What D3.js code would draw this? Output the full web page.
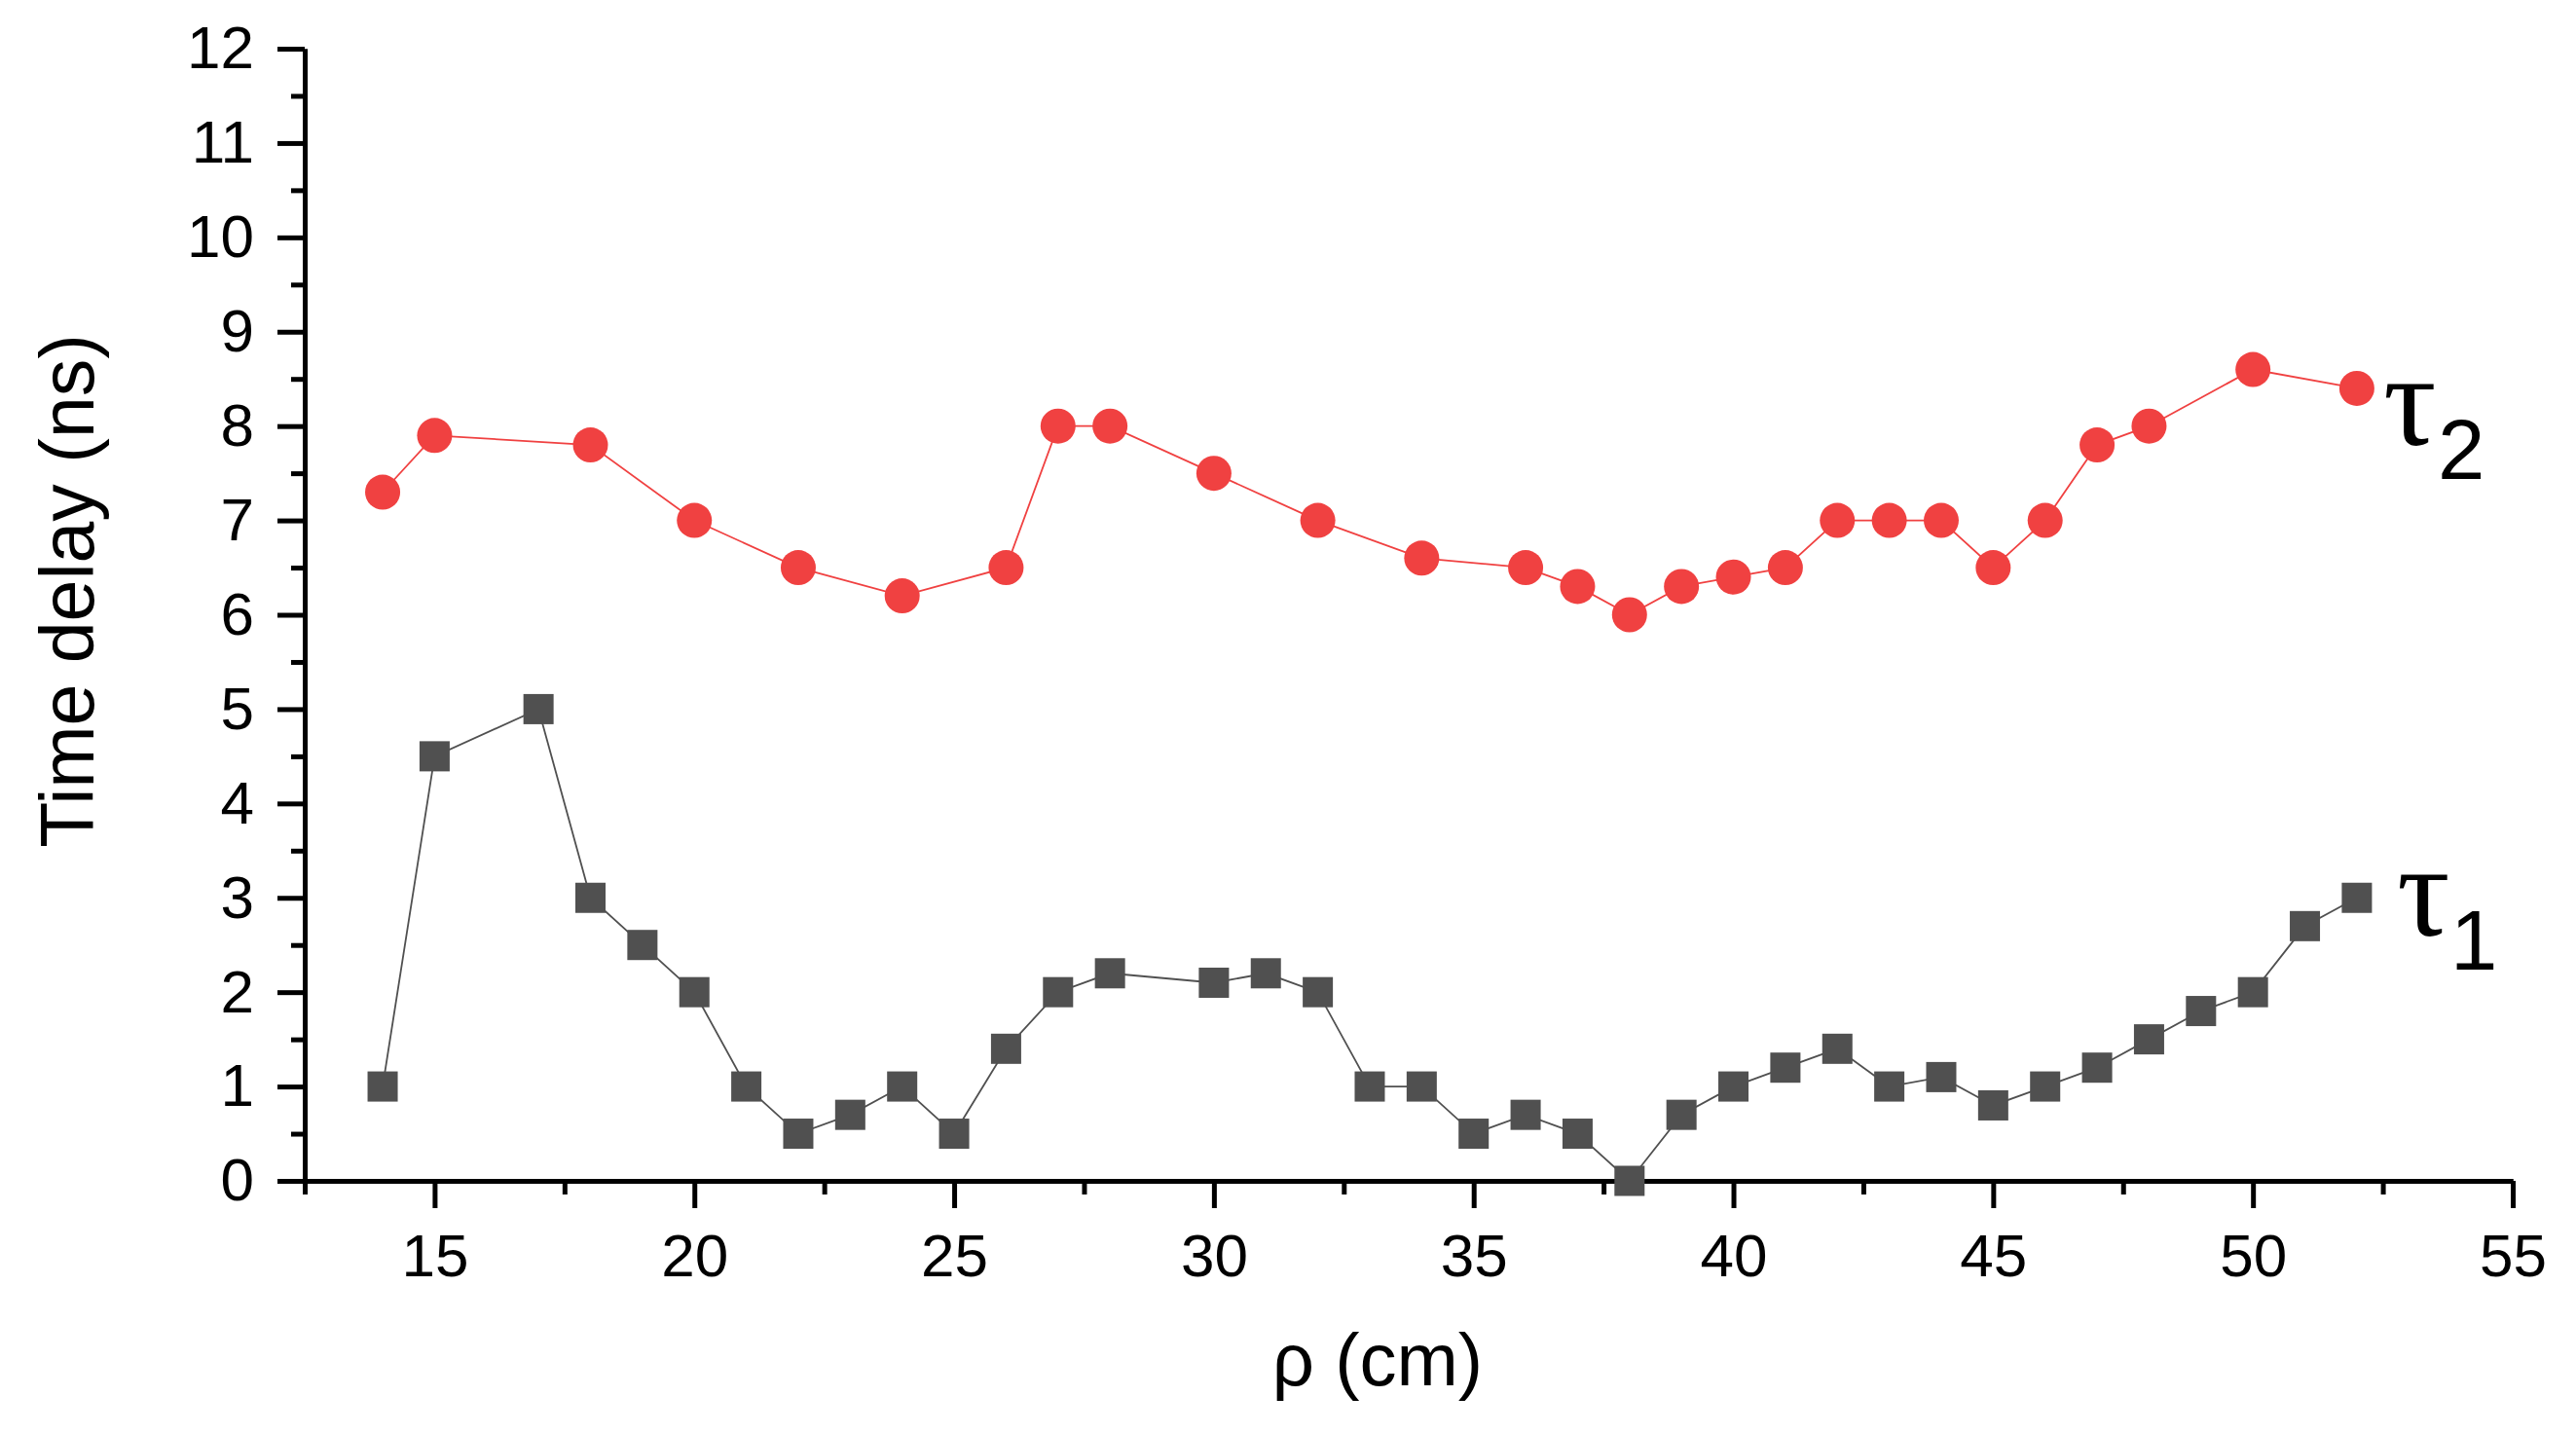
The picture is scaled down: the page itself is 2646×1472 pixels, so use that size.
<!DOCTYPE html>
<html lang="en">
<head>
    <meta charset="UTF-8">
    <title>Time delay vs rho</title>
    <script src="https://d3js.org/d3.v7.min.js"></script>
    <style>
        body {
            margin: 0;
            padding: 0;
            background-color: #ffffff;
        }
        svg text {
            font-family: 'Liberation Sans', Arial, sans-serif;
            fill: #000;
        }
    </style>
</head>
<body>
    <script>
        // Datos
        const tau1X = [14, 15, 17, 18, 19, 20, 21, 22, 23, 24, 25, 26, 27, 28, 30, 31, 32, 33, 34, 35, 36, 37, 38, 39, 40, 41, 42, 43, 44, 45, 46, 47, 48, 49, 50, 51, 52];
        const tau1Y = [1.0, 4.5, 5.0, 3.0, 2.5, 2.0, 1.0, 0.5, 0.7, 1.0, 0.5, 1.4, 2.0, 2.2, 2.1, 2.2, 2.0, 1.0, 1.0, 0.5, 0.7, 0.5, 0.0, 0.7, 1.0, 1.2, 1.4, 1.0, 1.1, 0.8, 1.0, 1.2, 1.5, 1.8, 2.0, 2.7, 3.0];

        const tau2X = [14, 15, 18, 20, 22, 24, 26, 27, 28, 30, 32, 34, 36, 37, 38, 39, 40, 41, 42, 43, 44, 45, 46, 47, 48, 50, 52];
        const tau2Y = [7.3, 7.9, 7.8, 7.0, 6.5, 6.2, 6.5, 8.0, 8.0, 7.5, 7.0, 6.6, 6.5, 6.3, 6.0, 6.3, 6.4, 6.5, 7.0, 7.0, 7.0, 6.5, 7.0, 7.8, 8.0, 8.6, 8.4];

        const xMajorTicks = [15, 20, 25, 30, 35, 40, 45, 50, 55];
        const xMinorTicks = [12.5, 17.5, 22.5, 27.5, 32.5, 37.5, 42.5, 47.5, 52.5];
        const yMajorTicks = [0, 1, 2, 3, 4, 5, 6, 7, 8, 9, 10, 11, 12];
        const yMinorTicks = [0.5, 1.5, 2.5, 3.5, 4.5, 5.5, 6.5, 7.5, 8.5, 9.5, 10.5, 11.5];

        const width = 2646;
        const height = 1472;

        const svg = d3.select("body")
            .append("svg")
            .attr("width", width)
            .attr("height", height);

        const x = d3.scaleLinear().domain([12.5, 55]).range([313, 2581]);
        const y = d3.scaleLinear().domain([0, 12]).range([1213, 50]);

        // Ejes
        function styleAxis(g) {
            g.select(".domain").attr("stroke", "#000").attr("stroke-width", 5);
            g.selectAll(".tick line").attr("stroke", "#000").attr("stroke-width", 5);
        }

        svg.append("g")
            .attr("transform", `translate(0,${y(0)})`)
            .call(d3.axisBottom(x).tickValues(xMinorTicks).tickSize(14).tickSizeOuter(0).tickFormat(""))
            .call(styleAxis);

        const xAxis = svg.append("g")
            .attr("transform", `translate(0,${y(0)})`)
            .call(d3.axisBottom(x).tickValues(xMajorTicks).tickSize(28).tickSizeOuter(0).tickPadding(26))
            .call(styleAxis);
        xAxis.selectAll(".tick text").attr("font-size", 62).attr("font-family", "'Liberation Sans', Arial, sans-serif");

        svg.append("g")
            .attr("transform", `translate(${x(12.5)},0)`)
            .call(d3.axisLeft(y).tickValues(yMinorTicks).tickSize(14).tickSizeOuter(0).tickFormat(""))
            .call(styleAxis);

        const yAxis = svg.append("g")
            .attr("transform", `translate(${x(12.5)},0)`)
            .call(d3.axisLeft(y).tickValues(yMajorTicks).tickSize(28).tickSizeOuter(0).tickPadding(24))
            .call(styleAxis);
        yAxis.selectAll(".tick text").attr("font-size", 62).attr("font-family", "'Liberation Sans', Arial, sans-serif");

        // Títulos de ejes
        svg.append("text")
            .attr("x", 1415)
            .attr("y", 1423)
            .attr("text-anchor", "middle")
            .attr("font-size", 76)
            .text("ρ (cm)");

        svg.append("text")
            .attr("transform", "translate(96,607) rotate(-90)")
            .attr("text-anchor", "middle")
            .attr("font-size", 77)
            .text("Time delay (ns)");

        // Series
        const line = d3.line().x(d => x(d[0])).y(d => y(d[1]));
        const tau1 = tau1X.map((v, i) => [v, tau1Y[i]]);
        const tau2 = tau2X.map((v, i) => [v, tau2Y[i]]);

        svg.append("path")
            .datum(tau1)
            .attr("d", line)
            .attr("fill", "none")
            .attr("stroke", "#505050")
            .attr("stroke-width", 1.8);

        svg.append("g")
            .selectAll("rect")
            .data(tau1)
            .enter()
            .append("rect")
            .attr("x", d => x(d[0]) - 15.5)
            .attr("y", d => y(d[1]) - 15.5)
            .attr("width", 31)
            .attr("height", 31)
            .attr("fill", "#505050");

        svg.append("path")
            .datum(tau2)
            .attr("d", line)
            .attr("fill", "none")
            .attr("stroke", "#f04141")
            .attr("stroke-width", 1.8);

        svg.append("g")
            .selectAll("circle")
            .data(tau2)
            .enter()
            .append("circle")
            .attr("cx", d => x(d[0]))
            .attr("cy", d => y(d[1]))
            .attr("r", 18)
            .attr("fill", "#f04141");

        // Etiquetas de series
        function seriesLabel(xPos, yBase, sub, subX) {
            const t = svg.append("text")
                .attr("x", xPos)
                .attr("y", yBase);
            t.append("tspan")
                .attr("font-family", "'Liberation Serif', 'DejaVu Serif', serif")
                .attr("font-size", 136)
                .text("τ");
            t.append("tspan")
                .attr("font-size", 87)
                .attr("x", subX)
                .attr("y", yBase + 35)
                .text(sub);
        }
        seriesLabel(2448, 457, "2", 2504);
        seriesLabel(2462, 961, "1", 2517);
    </script>
</body>
</html>
